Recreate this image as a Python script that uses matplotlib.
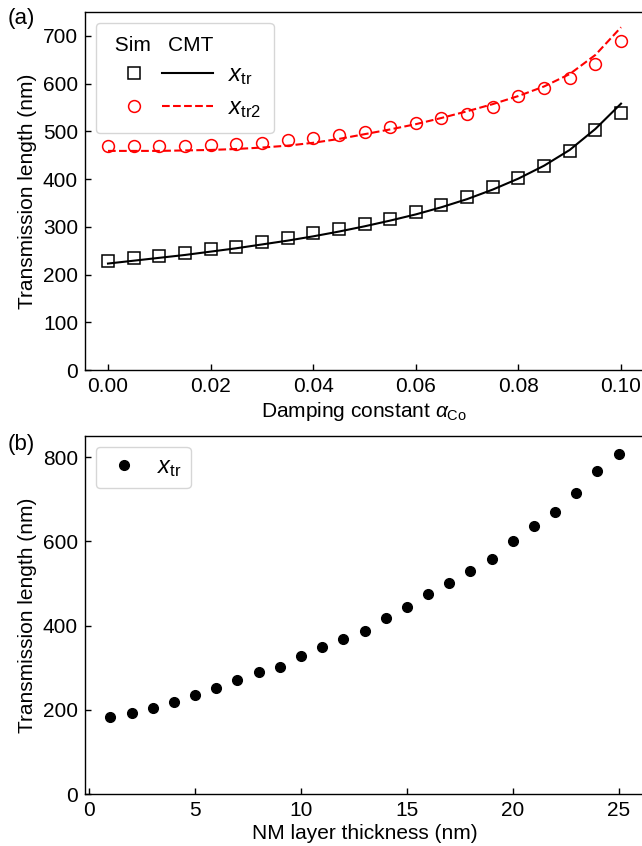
import matplotlib
matplotlib.use("Agg")
import matplotlib.pyplot as plt
from matplotlib.legend_handler import HandlerTuple

# --- Dados (a): comprimento de transmissão vs. amortecimento ---
alpha = [0.000, 0.005, 0.010, 0.015, 0.020, 0.025, 0.030, 0.035, 0.040, 0.045,
         0.050, 0.055, 0.060, 0.065, 0.070, 0.075, 0.080, 0.085, 0.090, 0.095, 0.100]
sim_xtr = [229, 234, 239, 246, 254, 258, 269, 276, 286, 296,
           306, 316, 331, 346, 363, 383, 403, 427, 459, 502, 539]
sim_xtr2 = [469, 469, 469, 469, 471, 474, 476, 481, 486, 492,
            498, 509, 518, 527, 537, 551, 574, 590, 612, 641, 689]
cmt_xtr = [223, 229, 235, 241, 248, 255, 263, 271, 280, 290,
           301, 313, 326, 341, 358, 378, 401, 428, 461, 505, 558]
cmt_xtr2 = [459, 459, 459, 460, 461, 463, 466, 470, 476, 484,
            494, 504, 515, 528, 542, 557, 574, 594, 620, 660, 718]

# --- Dados (b): comprimento de transmissão vs. espessura NM ---
nm_thick = list(range(1, 26))
xtr_nm = [183, 192, 205, 219, 234, 252, 270, 290, 302, 328,
          349, 367, 387, 419, 445, 475, 500, 530, 558, 600,
          637, 670, 715, 768, 808]

FS = 15
LEG_FS = 17  # os rótulos x_tr da legenda aparecem maiores
plt.rcParams['font.family'] = ['Liberation Sans', 'DejaVu Sans']
plt.rcParams['mathtext.fontset'] = 'custom'
plt.rcParams['mathtext.rm'] = 'Liberation Sans'
plt.rcParams['mathtext.it'] = 'Liberation Sans:italic'
plt.rcParams['font.size'] = FS

W, H = 642, 846
fig = plt.figure(figsize=(W / 100, H / 100), dpi=100)

def px_axes(left, top, width, height):
    return fig.add_axes([left / W, (H - top - height) / H, width / W, height / H])

def style(ax):
    ax.tick_params(direction='in', length=4, width=1, pad=5, labelsize=FS,
                   top=False, right=False)
    for s in ax.spines.values():
        s.set_linewidth(1.0)

# ---------- (a) ----------
ax1 = px_axes(85, 12, 559, 358)
sq, = ax1.plot(alpha, sim_xtr, 's', ms=8, mfc='none', mec='black', mew=1.1)
ci, = ax1.plot(alpha, sim_xtr2, 'o', ms=8.5, mfc='none', mec='red', mew=1.1)
l1, = ax1.plot(alpha, cmt_xtr, '-', color='black', lw=1.5)
l2, = ax1.plot(alpha, cmt_xtr2, '--', color='red', lw=1.5)
ax1.set_xlim(-0.00448, 0.10448)
ax1.set_ylim(0, 750)
ax1.set_xticks([0, 0.02, 0.04, 0.06, 0.08, 0.10])
ax1.set_xticklabels(['0.00', '0.02', '0.04', '0.06', '0.08', '0.10'])
ax1.set_yticks(range(0, 701, 100))
ax1.set_xlabel(r'Damping constant $\alpha_{\mathrm{Co}}$', labelpad=3)
ax1.set_ylabel('Transmission length (nm)')
style(ax1)

leg = ax1.legend([(sq, l1), (ci, l2)],
                 [r'$x_{\mathrm{tr}}$', r'$x_{\mathrm{tr2}}$'],
                 handler_map={tuple: HandlerTuple(ndivide=None, pad=0.1)},
                 handlelength=4.4, handletextpad=0.64, borderpad=0.55,
                 borderaxespad=0.45,
                 loc='upper left', title=' Sim   CMT', title_fontsize=FS,
                 fontsize=LEG_FS, labelspacing=0.42)
leg._legend_box.align = 'left'

# ---------- (b) ----------
ax2 = px_axes(85, 436, 559, 358)
ax2.plot(nm_thick, xtr_nm, 'o', ms=7, color='black', label=r'$x_{\mathrm{tr}}$')
ax2.set_ylim(0, 850)
ax2.set_xlim(-0.2, 26.2)
ax2.set_xticks([0, 5, 10, 15, 20, 25])
ax2.set_yticks([0, 200, 400, 600, 800])
ax2.set_xlabel('NM layer thickness (nm)', labelpad=3)
ax2.set_ylabel('Transmission length (nm)')
style(ax2)
ax2.legend(loc='upper left', fontsize=LEG_FS, handletextpad=0.6, borderpad=0.4,
           handlelength=1.6, borderaxespad=0.45)

fig.text(8 / W, 1 - 8 / H, '(a)', fontsize=FS + 1, ha='left', va='top')
fig.text(8 / W, 1 - 434 / H, '(b)', fontsize=FS + 1, ha='left', va='top')

fig.savefig('out.png', dpi=100)
